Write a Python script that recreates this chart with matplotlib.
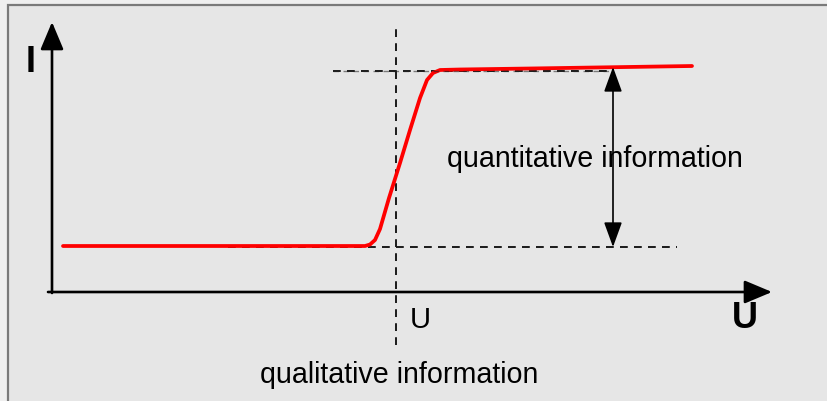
import matplotlib
matplotlib.use("Agg")
import matplotlib.pyplot as plt
from matplotlib.patches import Rectangle

# ---- data (axes origin at (0,0), arbitrary units) ----
curve_u = [11, 313, 318, 323, 328, 337, 348, 358, 368, 375, 381, 388, 408, 478, 640]
curve_i = [46, 46, 47.5, 52, 63, 94, 129, 162, 194, 212, 219, 222, 222.5, 223.5, 226]

top_level = 221          # upper saturation level (dashed guide)
top_guide_u = [281, 560]
bottom_level = 45        # lower level (dashed guide)
bottom_guide_u = [176, 625]
threshold_u = 344        # threshold voltage (vertical dashed guide)
threshold_span = [-53, 267]
quant_u = 561            # position of the double arrow
quant_span = [45, 225]

x_axis_span = [-4, 720]
y_axis_span = [0, 270]

label_I = "I"
label_U = "U"
label_U_small = "U"
label_quant = "quantitative information"
label_qual = "qualitative information"

# ---- figure ----
W, H = 827, 401
fig = plt.figure(figsize=(W / 100, H / 100), dpi=100)
fig.patch.set_facecolor("#efefef")
ax = fig.add_axes([0, 0, 1, 1])
ax.set_xlim(-52, W - 52)
ax.set_ylim(-(H - 292), 292)
ax.axis("off")

plt.rcParams["font.family"] = ["Liberation Sans", "DejaVu Sans"]

# frame / background panel
ax.add_patch(Rectangle((-44, -200), 1000, 487 - 200 + 200 - 200 + 200,
                       facecolor="#e6e6e6", edgecolor="#7a7a7a", lw=1.6, zorder=0))

# axes arrows
arrow_kw = dict(arrowstyle="-|>,head_length=1.0,head_width=0.42", color="black",
                lw=1.9, shrinkA=0, shrinkB=0, mutation_scale=17)
ax.annotate("", xy=(0, y_axis_span[1]), xytext=(0, y_axis_span[0] - 1),
            arrowprops=arrow_kw, zorder=3)
ax.annotate("", xy=(x_axis_span[1], 0), xytext=(x_axis_span[0], 0),
            arrowprops=arrow_kw, zorder=3)

# dashed guides
dash_kw = dict(color="#1a1a1a", lw=1.4, linestyle=(0, (4.0, 3.2)), zorder=2)
ax.plot(top_guide_u, [top_level, top_level], **dash_kw)
ax.plot(bottom_guide_u, [bottom_level, bottom_level], **dash_kw)
ax.plot([threshold_u, threshold_u], threshold_span, **dash_kw)

# red characteristic curve
ax.plot(curve_u, curve_i, color="#ff0000", lw=2.7, solid_capstyle="round",
        solid_joinstyle="round", zorder=4)
ax.plot(top_guide_u, [top_level, top_level], color="#222222", lw=1.0,
        linestyle=(0, (4.0, 3.2)), alpha=0.55, zorder=5)

# double arrow (quantitative)
darrow_kw = dict(arrowstyle="<|-|>,head_length=1.1,head_width=0.4", color="black",
                 lw=1.2, shrinkA=0, shrinkB=0, mutation_scale=14)
ax.annotate("", xy=(quant_u, quant_span[1]), xytext=(quant_u, quant_span[0]),
            arrowprops=darrow_kw, zorder=6)

# texts
ax.text(-21, 230, label_I, fontsize=26, fontweight="bold", ha="center",
        va="center")
ax.text(693, -27, label_U, fontsize=26, fontweight="bold", ha="center",
        va="center")
ax.text(368, -28, label_U_small, fontsize=21, ha="center", va="center")
ax.text(395, 125, label_quant, fontsize=20.6, ha="left", va="baseline")
ax.text(208, -91, label_qual, fontsize=20.6, ha="left", va="baseline")

fig.savefig("out.png", dpi=100, facecolor=fig.get_facecolor())
